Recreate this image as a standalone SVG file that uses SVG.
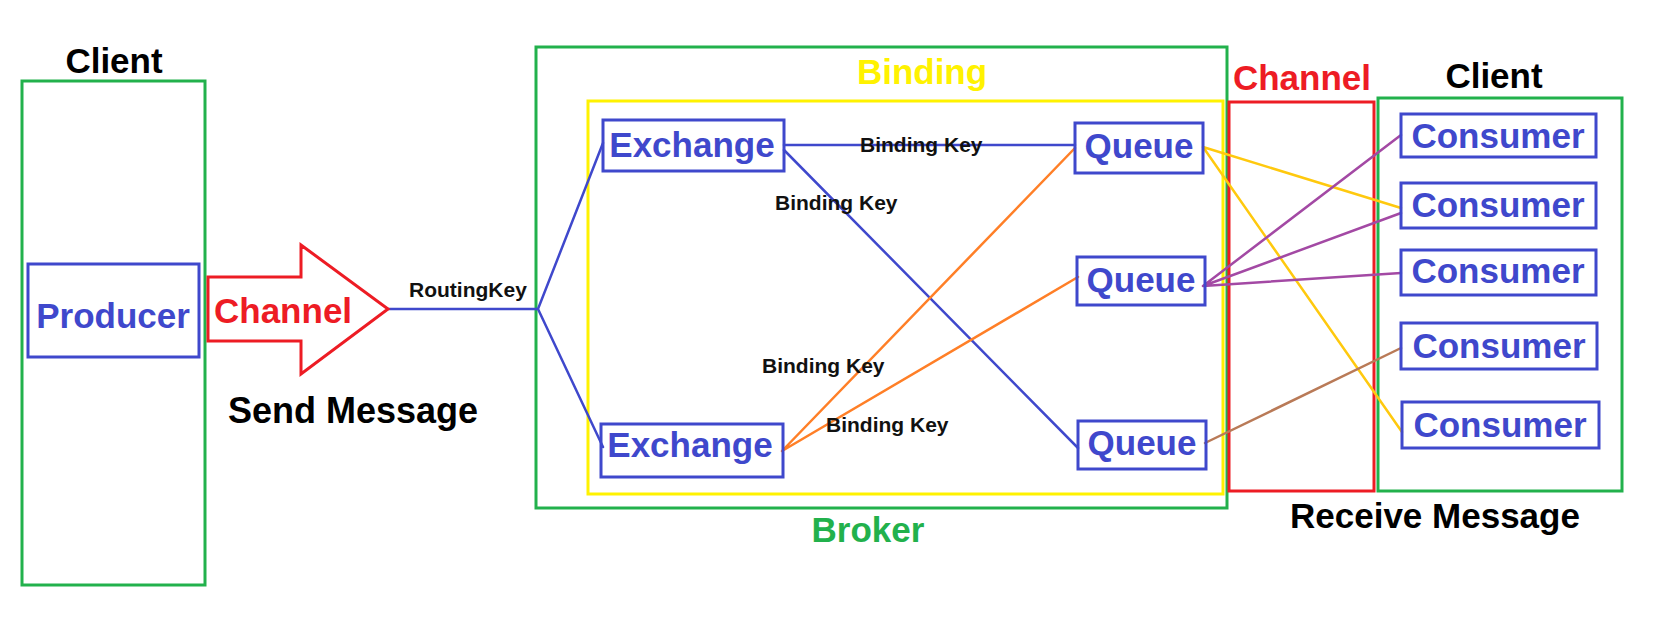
<svg xmlns="http://www.w3.org/2000/svg" width="1656" height="642" viewBox="0 0 1656 642">
<style>
text{font-family:"Liberation Sans",Arial,sans-serif;font-weight:bold}
.t{font-size:35px;text-anchor:middle}
.k{font-size:21px;fill:#111}
.node{fill:none;stroke:#3F48CC;stroke-width:3}
.nt{fill:#3F48CC}
.grn{fill:none;stroke:#22B14C;stroke-width:3}
.c{fill:none;stroke-width:2.5;stroke-linecap:round}
</style>
<rect width="1656" height="642" fill="#fff"/>
<g id="containers">
  <rect id="client-left" class="grn" x="22" y="81" width="183" height="504"/>
  <rect id="broker" class="grn" x="536" y="47" width="691" height="461"/>
  <rect id="binding" x="588" y="101" width="635" height="393" fill="none" stroke="#FFF200" stroke-width="3"/>
  <rect id="channel-right" x="1229" y="102" width="145" height="389" fill="none" stroke="#ED1C24" stroke-width="3"/>
  <rect id="client-right" class="grn" x="1378" y="98" width="244" height="393"/>
</g>
<g id="connectors">
  <g stroke="#3F48CC" class="c">
    <path class="c" stroke="#3F48CC" d="M388 309 H538 L603 143 M538 309 L603 447"/>
    <path class="c" stroke="#3F48CC" d="M784 145 H1075 M784 150 L1078 448"/>
  </g>
  <path class="c" stroke="#FF7F27" d="M782 451 L1075 148 M782 451 L1078 277"/>
  <path class="c" stroke="#FFC90E" d="M1203 147 L1401 208 M1203 147 L1402 432"/>
  <path class="c" stroke="#A349A4" d="M1203 286 L1401 135 M1203 286 L1401 213 M1203 286 L1401 273"/>
  <path class="c" stroke="#B97A57" d="M1205 443 L1401 348"/>
</g>
<g id="channel-arrow">
  <polygon points="208,277 301,277 301,245 388,309 301,374 301,341 208,341" fill="#fff" stroke="#ED1C24" stroke-width="3"/>
  <text x="214" y="323" font-size="35" fill="#ED1C24">Channel</text>
</g>
<g id="producer"><rect class="node" x="28" y="264" width="171" height="93" fill="#fff"/><text class="t nt" x="113" y="328">Producer</text></g>
<g id="exchange1"><rect class="node" x="603" y="120" width="181" height="51"/><text class="t nt" x="692" y="157">Exchange</text></g>
<g id="exchange2"><rect class="node" x="601" y="424" width="182" height="53"/><text class="t nt" x="690" y="457">Exchange</text></g>
<g id="queue1"><rect class="node" x="1075" y="123" width="128" height="50"/><text class="t nt" x="1139" y="158">Queue</text></g>
<g id="queue2"><rect class="node" x="1077" y="257" width="128" height="48"/><text class="t nt" x="1141" y="292">Queue</text></g>
<g id="queue3"><rect class="node" x="1078" y="421" width="128" height="48"/><text class="t nt" x="1142" y="455">Queue</text></g>
<g id="consumer1"><rect class="node" x="1401" y="114" width="195" height="43"/><text class="t nt" x="1498" y="148">Consumer</text></g>
<g id="consumer2"><rect class="node" x="1401" y="183" width="195" height="45"/><text class="t nt" x="1498" y="217">Consumer</text></g>
<g id="consumer3"><rect class="node" x="1401" y="250" width="195" height="45"/><text class="t nt" x="1498" y="283">Consumer</text></g>
<g id="consumer4"><rect class="node" x="1401" y="323" width="196" height="46"/><text class="t nt" x="1499" y="358">Consumer</text></g>
<g id="consumer5"><rect class="node" x="1402" y="402" width="197" height="46"/><text class="t nt" x="1500" y="437">Consumer</text></g>
<g id="labels">
  <text class="t" x="114" y="73" fill="#000">Client</text>
  <text class="t" x="1494" y="88" fill="#000">Client</text>
  <text class="t" x="922" y="84" fill="#FFF200">Binding</text>
  <text class="t" x="1302" y="90" fill="#ED1C24">Channel</text>
  <text class="t" x="868" y="542" fill="#22B14C">Broker</text>
  <text x="228" y="423" font-size="36" fill="#000">Send Message</text>
  <text x="1290" y="528" font-size="35" fill="#000">Receive Message</text>
  <text class="k" x="409" y="297">RoutingKey</text>
  <text class="k" x="860" y="152">Binding Key</text>
  <text class="k" x="775" y="210">Binding Key</text>
  <text class="k" x="762" y="373">Binding Key</text>
  <text class="k" x="826" y="432">Binding Key</text>
</g>
</svg>
